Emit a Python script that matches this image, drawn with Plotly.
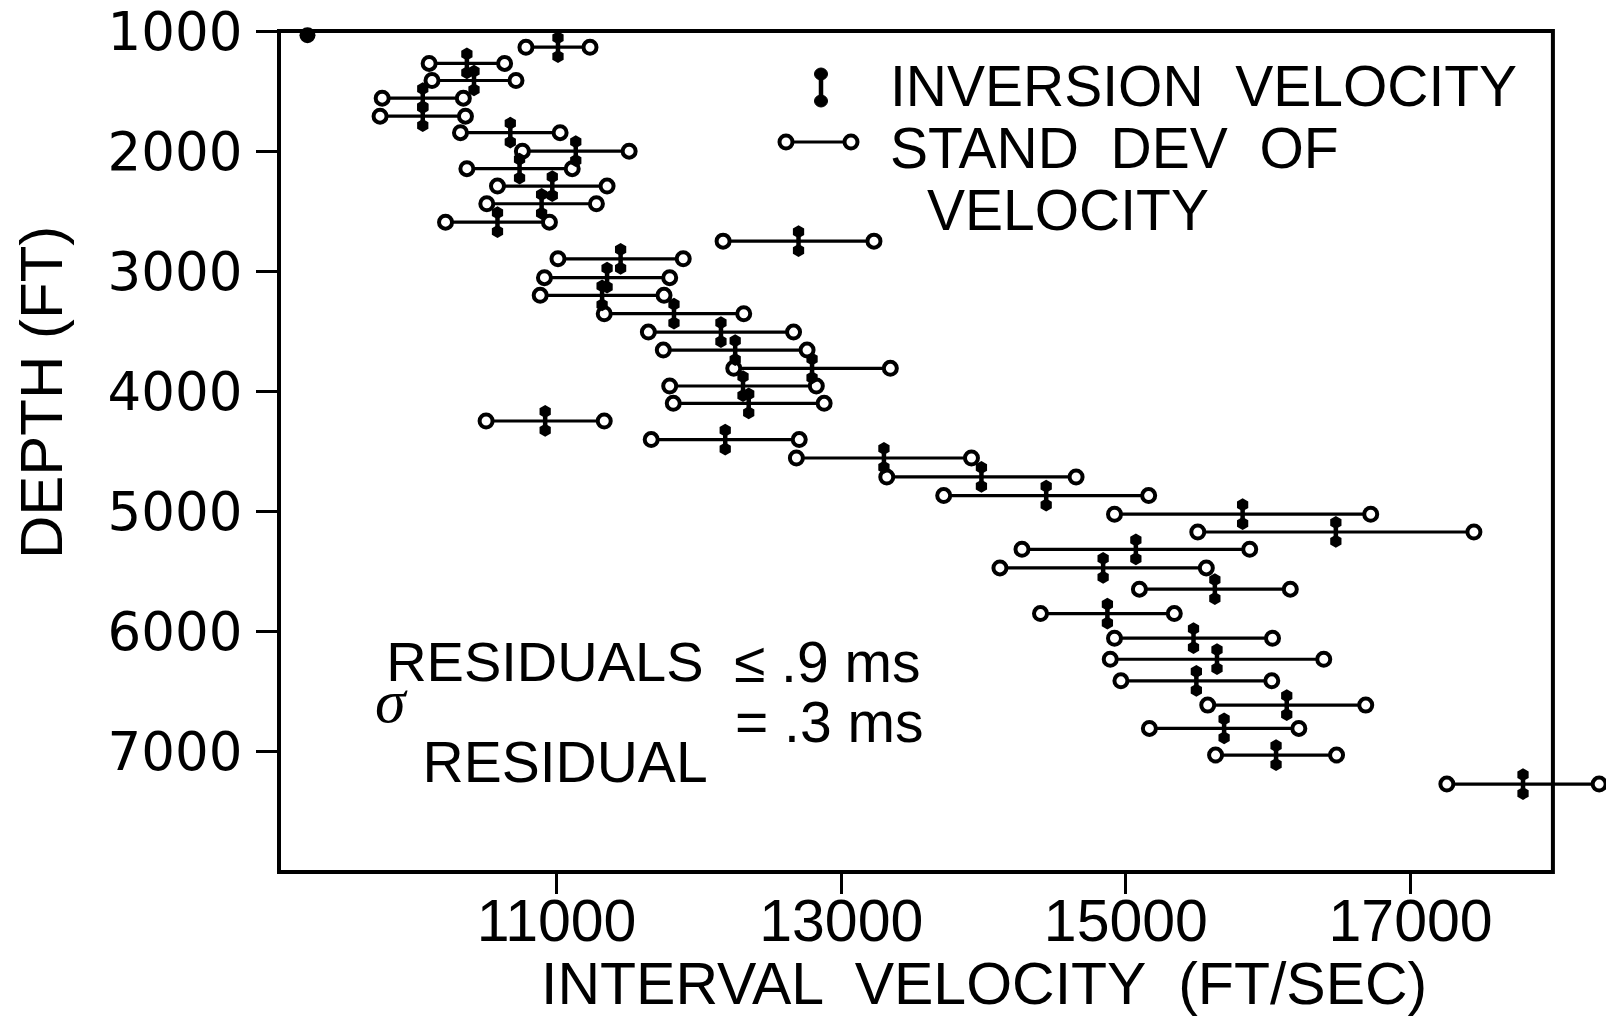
import plotly.graph_objects as go

# ---------------------------------------------------------------------------
# Data: interval velocity inversion vs depth, with +/- one standard deviation
# ---------------------------------------------------------------------------
depth_ft = [1135, 1270, 1412, 1559, 1709, 1846, 2000, 2146, 2291, 2438,
            2591, 2749, 2896, 3053, 3200, 3353, 3506, 3656, 3808, 3955,
            4099, 4246, 4401, 4554, 4712, 4867, 5022, 5170, 5314, 5469,
            5646, 5849, 6054, 6229, 6409, 6611, 6805, 7027, 7268]

inversion_velocity = [11010, 10370, 10420, 10060, 10060, 10675, 11135, 10740, 10970, 10895,
                      10585, 12700, 11450, 11355, 11320, 11825, 12155, 12255, 12795, 12310,
                      12350, 10920, 12185, 13300, 13985, 14440, 15820, 16475, 15070, 14840,
                      15625, 14870, 15475, 15640, 15495, 16130, 15690, 16055, 17790]

velocity_std = [225, 265, 295, 285, 300, 350, 375, 370, 385, 385,
                365, 530, 440, 440, 435, 490, 510, 505, 550, 515,
                530, 415, 520, 615, 665, 720, 900, 970, 800, 725,
                530, 470, 555, 750, 530, 555, 525, 425, 535]

# surface reference point plotted at the top of the section
surface_velocity = [9250]
surface_depth = [1035]

x_tick_values = [11000, 13000, 15000, 17000]
y_tick_values = [1000, 2000, 3000, 4000, 5000, 6000, 7000]

# ---------------------------------------------------------------------------
# Layout geometry
# ---------------------------------------------------------------------------
FIG_W, FIG_H = 1606, 1017
M_L, M_R, M_T, M_B = 279, 0, 31, 145
X_MIN, X_MAX = 9050, 18373
FRAME_X_MAX = 18000
Y_TOP, Y_BOTTOM = 1000, 8000

SANS = "Liberation Sans, Arial, Helvetica, sans-serif"
INK = "black"

BAR_HALF_FT = 80      # half height of the inversion-velocity I-beam
BLOB_OFFSET_FT = 78   # end blobs of the I-beam


def px_x(px):
    return (px - M_L) / (FIG_W - M_L - M_R)


def px_y(py):
    return (FIG_H - M_B - py) / (FIG_H - M_T - M_B)


# standard deviation segments, one per depth, separated by gaps
sd_x, sd_y = [], []
for d, v, s in zip(depth_ft, inversion_velocity, velocity_std):
    sd_x += [v - s, v + s, None]
    sd_y += [d, d, None]

blob_x = inversion_velocity + inversion_velocity
blob_y = [d - BLOB_OFFSET_FT for d in depth_ft] + [d + BLOB_OFFSET_FT for d in depth_ft]

fig = go.Figure()

fig.add_trace(go.Scatter(
    x=sd_x, y=sd_y, mode="lines+markers",
    line=dict(color=INK, width=3.2),
    marker=dict(symbol="circle", size=13, color="white",
                line=dict(color=INK, width=4)),
    cliponaxis=False, showlegend=False, hoverinfo="skip",
))

fig.add_trace(go.Scatter(
    x=inversion_velocity, y=depth_ft, mode="markers",
    marker=dict(symbol="line-ns", size=1, color=INK, line=dict(color=INK, width=1)),
    error_y=dict(type="constant", value=BAR_HALF_FT, thickness=4.5, width=0, color=INK),
    cliponaxis=False, showlegend=False,
))

fig.add_trace(go.Scatter(
    x=blob_x, y=blob_y, mode="markers",
    marker=dict(symbol="hexagon", size=13, color=INK),
    cliponaxis=False, showlegend=False, hoverinfo="skip",
))

fig.add_trace(go.Scatter(
    x=surface_velocity, y=surface_depth, mode="markers",
    marker=dict(symbol="circle", size=16, color=INK),
    cliponaxis=False, showlegend=False,
))

# ---------------------------------------------------------------------------
# Frame, legend glyphs and text
# ---------------------------------------------------------------------------
frame_right = (FRAME_X_MAX - X_MIN) / (X_MAX - X_MIN)
shapes = [
    dict(type="rect", xref="paper", yref="paper", x0=0, x1=frame_right, y0=0, y1=1,
         line=dict(color=INK, width=4), layer="above"),
    # legend: inversion velocity I-beam
    dict(type="line", xref="paper", yref="paper",
         x0=px_x(821), x1=px_x(821), y0=px_y(72), y1=px_y(103),
         line=dict(color=INK, width=4.5)),
    # legend: standard deviation bar
    dict(type="line", xref="paper", yref="paper",
         x0=px_x(786), x1=px_x(851), y0=px_y(142), y1=px_y(142),
         line=dict(color=INK, width=3.2)),
]
for cy in (74, 101):
    shapes.append(dict(type="circle", xref="paper", yref="paper",
                       xsizemode="pixel", ysizemode="pixel",
                       xanchor=px_x(821), yanchor=px_y(cy),
                       x0=-6.5, x1=6.5, y0=-6, y1=6,
                       fillcolor=INK, line=dict(color=INK, width=1)))
for cx in (786, 851):
    shapes.append(dict(type="circle", xref="paper", yref="paper",
                       xsizemode="pixel", ysizemode="pixel",
                       xanchor=px_x(cx), yanchor=px_y(142),
                       x0=-6.5, x1=6.5, y0=-6.5, y1=6.5,
                       fillcolor="white", line=dict(color=INK, width=4)))


def label(text, px, py, size, xanchor="left", family=SANS, **kw):
    return dict(text=text, xref="paper", yref="paper", x=px_x(px), y=px_y(py),
                xanchor=xanchor, yanchor="middle", showarrow=False, borderpad=0,
                font=dict(family=family, size=size, color=INK), **kw)


# residual statistics block: "RESIDUALS" over a raised sigma and its
# "RESIDUAL" subscript, set as one text block on a fine line grid
residual_block = (
    "<span style='font-size:40px'> </span><span style='font-size:56px'>RESIDUALS</span>"
    "<br><br>"
    "<span style='font-family:Liberation Serif, serif;font-style:italic;font-size:62px'>\u03c3</span>"
    "<br><br><br>"
    "<span style='font-size:57px'>   RESIDUAL</span>"
)

annotations = [
    label("INVERSION  VELOCITY", 889, 86, 57),
    label("STAND  DEV  OF", 889, 148, 57),
    label("VELOCITY", 926, 210, 57),
    label(residual_block, 374, 712, 15.6, align="left"),
    label("\u2264 .9 ms", 733, 662, 57),
    label("= .3 ms", 734, 722, 57),
    label("DEPTH (FT)", 42, 393, 60, xanchor="center", textangle=-90),
    label("INTERVAL  VELOCITY  (FT/SEC)", 984, 984, 59, xanchor="center"),
]

fig.update_layout(
    width=FIG_W, height=FIG_H,
    margin=dict(l=M_L, r=M_R, t=M_T, b=M_B, pad=0),
    paper_bgcolor="white", plot_bgcolor="white",
    showlegend=False,
    shapes=shapes,
    annotations=annotations,
    xaxis=dict(
        range=[X_MIN, X_MAX], tickvals=x_tick_values,
        ticktext=[str(v) for v in x_tick_values],
        ticks="outside", ticklen=21, tickwidth=3, tickcolor=INK,
        tickfont=dict(family=SANS, size=59, color=INK),
        showgrid=False, zeroline=False, showline=False,
        ticklabelstandoff=-24,
    ),
    yaxis=dict(
        range=[Y_BOTTOM, Y_TOP], tickvals=y_tick_values,
        ticktext=[str(v) for v in y_tick_values],
        ticks="outside", ticklen=22, tickwidth=3, tickcolor=INK,
        tickfont=dict(family="DejaVu Sans, Verdana, sans-serif", size=53, color=INK),
        showgrid=False, zeroline=False, showline=False,
        ticklabelstandoff=3,
    ),
)

fig.write_html("out.html")
